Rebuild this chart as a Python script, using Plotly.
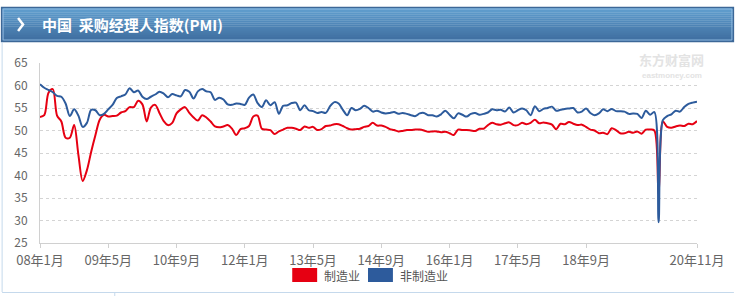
import plotly.graph_objects as go

# ---------------- data ----------------
months = [f"{y:02d}年{m}月" for y in range(8, 21) for m in range(1, 13)][:155]

manufacturing = [
    53.0, 53.4, 58.4, 59.2, 53.3, 52.0, 48.4, 48.4, 51.2, 44.6, 38.8, 41.2,
    45.3, 49.0, 52.4, 53.5, 53.1, 53.2, 53.3, 54.0, 54.3, 55.2, 55.2, 56.6,
    55.8, 52.0, 55.1, 55.7, 53.9, 52.1, 51.2, 51.7, 53.8, 54.7, 55.2, 53.9,
    52.9, 52.2, 53.4, 52.9, 52.0, 50.9, 50.7, 50.9, 51.2, 50.4, 49.0, 50.3,
    50.5, 51.0, 53.1, 53.3, 50.4, 50.2, 50.1, 49.2, 49.8, 50.2, 50.6, 50.6,
    50.4, 50.1, 50.9, 50.6, 50.8, 50.1, 50.3, 51.0, 51.1, 51.4, 51.4, 51.0,
    50.5, 50.2, 50.3, 50.4, 50.8, 51.0, 51.7, 51.1, 51.1, 50.8, 50.3, 50.1,
    49.8, 49.9, 50.1, 50.1, 50.2, 50.2, 50.0, 49.7, 49.8, 49.8, 49.6, 49.7,
    49.4, 49.0, 50.2, 50.1, 50.1, 50.0, 49.9, 50.4, 50.4, 51.2, 51.7, 51.4,
    51.3, 51.6, 51.8, 51.2, 51.2, 51.7, 51.4, 51.7, 52.4, 51.6, 51.8, 51.6,
    51.3, 50.3, 51.5, 51.4, 51.9, 51.5, 51.2, 51.3, 50.8, 50.2, 50.0, 49.4,
    49.5, 49.2, 50.5, 50.1, 49.4, 49.4, 49.7, 49.5, 49.8, 49.3, 50.2, 50.2,
    50.0, 35.7, 52.0, 50.8, 50.6, 50.9, 51.1, 51.0, 51.5, 51.4, 52.1,
]

non_manufacturing = [
    60.3, 59.5, 59.0, 58.5, 57.7, 57.5, 56.0, 53.2, 54.7, 53.3, 50.8, 51.7,
    54.6, 54.5, 53.4, 53.7, 54.7, 55.7, 57.2, 57.6, 58.0, 59.4, 58.5, 58.9,
    57.5, 57.0, 57.5, 58.0, 58.6, 58.2, 57.4, 58.1, 57.8, 57.6, 59.0, 58.6,
    57.1, 58.7, 59.2, 58.7, 58.5, 56.8, 57.3, 56.9, 55.8, 55.7, 56.0, 55.9,
    55.7, 57.3, 58.0, 56.1, 55.2, 56.7, 55.6, 56.3, 53.7, 55.5, 55.6, 56.1,
    56.2, 54.5, 55.6, 54.5, 54.3, 53.9, 54.1, 53.9, 55.4, 56.3, 56.0, 54.6,
    53.4, 55.0, 54.5, 54.8, 55.5, 55.0, 54.2, 54.4, 54.0, 53.8, 53.9, 54.1,
    53.7, 53.9, 53.7, 53.4, 53.2, 53.8, 53.9, 53.4, 53.4, 53.1, 53.6, 54.4,
    53.5, 52.7, 53.8, 53.5, 53.1, 53.7, 53.9, 53.5, 53.7, 54.0, 54.7, 54.5,
    54.6, 54.2, 55.1, 54.0, 54.5, 54.9, 54.5, 53.4, 55.4, 54.3, 54.8, 55.0,
    55.3, 54.4, 54.6, 54.8, 54.9, 55.0, 54.0, 54.2, 54.9, 53.9, 53.4, 53.8,
    54.7, 54.3, 54.8, 54.3, 54.3, 54.2, 53.7, 53.8, 53.7, 52.8, 54.4, 53.5,
    54.1, 29.6, 52.3, 53.2, 53.6, 54.4, 54.2, 55.2, 55.9, 56.2, 56.4,
]

tick_labels = ["08年1月", "09年5月", "10年9月", "12年1月", "13年5月",
               "14年9月", "16年1月", "17年5月", "18年9月", "20年11月"]
y_ticks = [25, 30, 35, 40, 45, 50, 55, 60, 65]
series_names = ["制造业", "非制造业"]
series_colors = ["#e60012", "#2d5b9c"]

# ---------------- layout helpers ----------------
W, H = 736, 296
PL, PR, PT, PB = 40, 699, 63, 243   # plot area in pixels


def px_x(px):
    return (px - PL) / (PR - PL)


def px_y(py):
    return (PB - py) / (PB - PT)


idx = list(range(len(months)))
tick_idx = [months.index(t) for t in tick_labels]

fig = go.Figure()
fig.add_trace(go.Scatter(
    x=idx, y=manufacturing, name=series_names[0], mode="lines",
    line=dict(color=series_colors[0], width=2, shape="spline", smoothing=0.9),
    showlegend=False, text=months, hovertemplate="%{text}: %{y}<extra>制造业</extra>"))
fig.add_trace(go.Scatter(
    x=idx, y=non_manufacturing, name=series_names[1], mode="lines",
    line=dict(color=series_colors[1], width=2, shape="spline", smoothing=0.9),
    showlegend=False, text=months, hovertemplate="%{text}: %{y}<extra>非制造业</extra>"))

shapes = []
# header gradient bar
top, bot = 8, 41
c_top = (96, 158, 206)
c_bot = (63, 110, 160)
n = 16
for i in range(n):
    t = i / (n - 1)
    c = tuple(round(c_top[k] + (c_bot[k] - c_top[k]) * t) for k in range(3))
    y0 = top + (bot - top) * i / n
    y1 = top + (bot - top) * (i + 1) / n
    shapes.append(dict(type="rect", xref="paper", yref="paper",
                       x0=px_x(2), x1=px_x(736), y0=px_y(y1 + 0.3), y1=px_y(y0),
                       fillcolor=f"rgb{c}", line_width=0, layer="above"))
# header outer border
shapes.append(dict(type="rect", xref="paper", yref="paper",
                   x0=px_x(1.5), x1=px_x(735.5), y0=px_y(41.5), y1=px_y(7.5),
                   line=dict(color="#3c6797", width=1.5), fillcolor="rgba(0,0,0,0)",
                   layer="above"))
# inner light border
shapes.append(dict(type="rect", xref="paper", yref="paper",
                   x0=px_x(3), x1=px_x(734), y0=px_y(40), y1=px_y(9),
                   line=dict(color="#8db8df", width=1), fillcolor="rgba(0,0,0,0)",
                   layer="above"))
# chevron
shapes.append(dict(type="path", xref="paper", yref="paper",
                   path=f"M {px_x(18)},{px_y(18)} L {px_x(23)},{px_y(24.5)} L {px_x(18)},{px_y(31)}",
                   line=dict(color="white", width=2.5), layer="above"))
# frame lines of the panel
shapes.append(dict(type="line", xref="paper", yref="paper",
                   x0=px_x(2), x1=px_x(2), y0=px_y(292), y1=px_y(42),
                   line=dict(color="#c5d9ec", width=1), layer="above"))
shapes.append(dict(type="line", xref="paper", yref="paper",
                   x0=px_x(2), x1=px_x(736), y0=px_y(292.5), y1=px_y(292.5),
                   line=dict(color="#c5d9ec", width=1), layer="above"))
shapes.append(dict(type="line", xref="paper", yref="paper",
                   x0=px_x(115), x1=px_x(115), y0=px_y(296), y1=px_y(292),
                   line=dict(color="#c5d9ec", width=1), layer="above"))
# legend swatches
legend_items = [(293, series_names[0], series_colors[0]), (369, series_names[1], series_colors[1])]
annotations = []
for x0, name, col in legend_items:
    shapes.append(dict(type="rect", xref="paper", yref="paper",
                       x0=px_x(x0), x1=px_x(x0 + 25), y0=px_y(282), y1=px_y(268),
                       fillcolor=col, line_width=0, layer="above"))
    annotations.append(dict(xref="paper", yref="paper", x=px_x(x0 + 30), y=px_y(275),
                            text=name, showarrow=False, xanchor="left", yanchor="middle",
                            font=dict(family="Noto Sans CJK SC", size=12, color="#555")))

annotations.append(dict(xref="paper", yref="paper", x=px_x(40), y=px_y(24.5),
                        text="<b>中国  采购经理人指数(PMI)</b>", showarrow=False,
                        xanchor="left", yanchor="middle",
                        font=dict(family="Noto Sans CJK SC", size=15, color="white")))
# watermark
annotations.append(dict(xref="paper", yref="paper", x=px_x(708), y=px_y(59),
                        text="<b>东方财富网</b>", showarrow=False,
                        xanchor="right", yanchor="middle",
                        font=dict(family="Noto Sans CJK SC", size=13, color="#e3e3e3")))
annotations.append(dict(xref="paper", yref="paper", x=px_x(706), y=px_y(75),
                        text="<b>eastmoney.com</b>", showarrow=False,
                        xanchor="right", yanchor="middle",
                        font=dict(family="Arial", size=8, color="#e3e3e3")))

fig.update_layout(
    width=W, height=H,
    margin=dict(l=PL, r=W - PR, t=PT, b=H - PB),
    paper_bgcolor="white", plot_bgcolor="white",
    font=dict(family="Noto Sans CJK SC", size=13, color="#666"),
    shapes=shapes, annotations=annotations,
    showlegend=False,
    xaxis=dict(range=[0, len(months) - 1], tickmode="array", tickvals=tick_idx,
               ticktext=tick_labels, showgrid=False, zeroline=False,
               showline=True, linecolor="#d0d0d0", linewidth=1,
               ticks="outside", ticklen=4, tickcolor="#d0d0d0",
               ticklabelstandoff=1,
               tickfont=dict(size=13, color="#666")),
    yaxis=dict(range=[25, 65], tickmode="array", tickvals=y_ticks,
               showgrid=True, gridcolor="#d4d4d4", griddash="dot", gridwidth=1,
               zeroline=False, showline=True, linecolor="#d0d0d0", linewidth=1,
               ticks="", ticklabelstandoff=9,
               tickfont=dict(size=12, color="#666")),
)

fig.write_html("out.html")
